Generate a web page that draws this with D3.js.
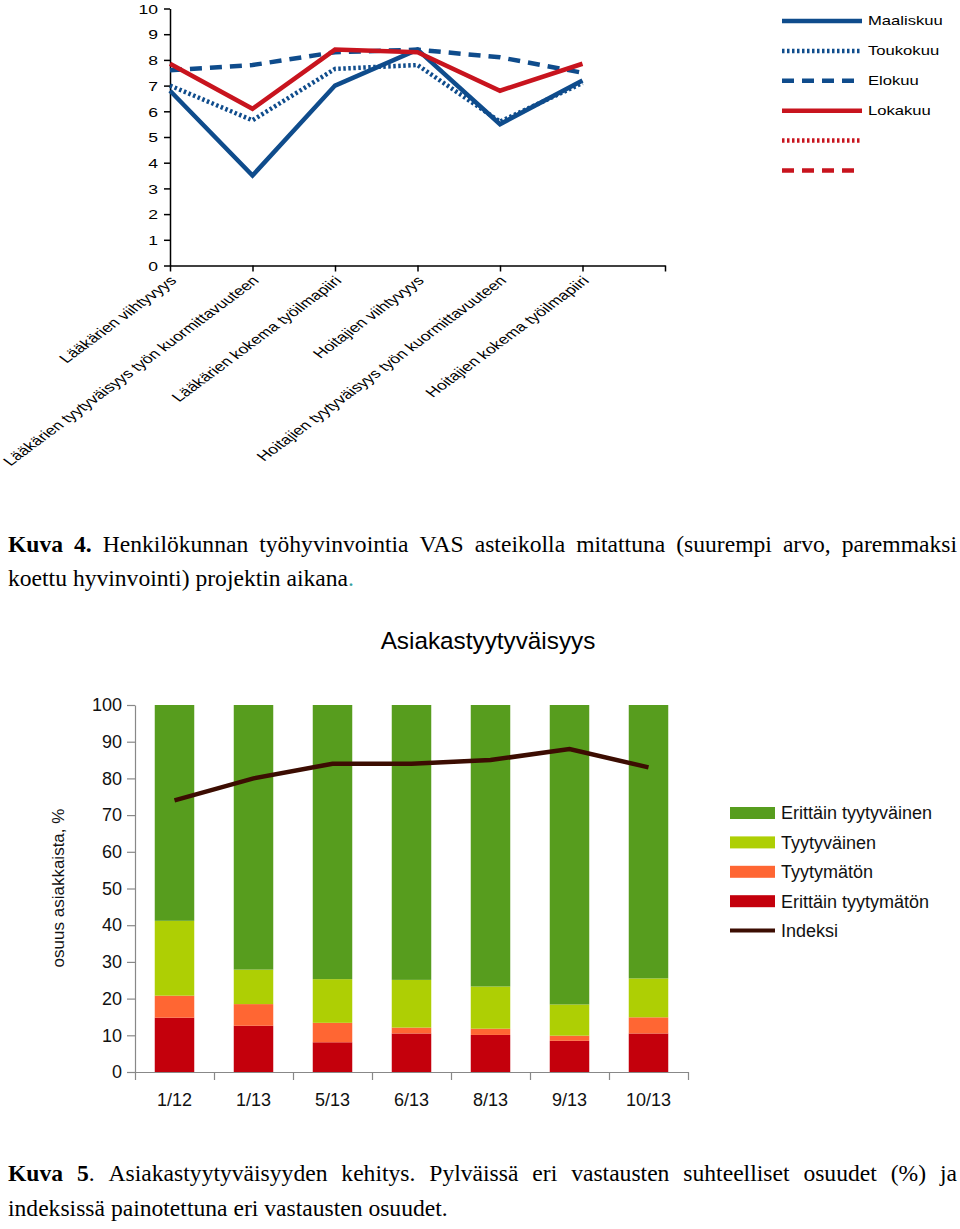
<!DOCTYPE html>
<html><head><meta charset="utf-8">
<script src="https://cdn.jsdelivr.net/npm/d3@7"></script>
<style>body{margin:0;background:#fff} svg{display:block}</style>
</head><body>
<svg id="c" width="960" height="1229"></svg>
<script>
// ---------- DATA: top chart ----------
const topCategories = ["Lääkärien viihtyvyys","Lääkärien tyytyväisyys työn kuormittavuuteen","Lääkärien kokema työilmapiiri","Hoitajien viihtyvyys","Hoitajien tyytyväisyys työn kuormittavuuteen","Hoitajien kokema työilmapiiri"];
const topSeriesNames = ["Maaliskuu","Toukokuu","Elokuu","Lokakuu","",""];
const maaliskuu = [6.8, 3.5, 7.0, 8.4, 5.5, 7.2];
const toukokuu  = [7.0, 5.65, 7.65, 7.8, 5.6, 7.1];
const elokuu    = [7.6, 7.8, 8.3, 8.4, 8.1, 7.5];
const lokakuu   = [7.85, 6.1, 8.4, 8.3, 6.8, 7.85];
const tyhja1 = [];
const tyhja2 = [];
const topYTicks = [0,1,2,3,4,5,6,7,8,9,10];

// ---------- DATA: bottom chart ----------
const periods = ["1/12","1/13","5/13","6/13","8/13","9/13","10/13"];
const erittainTyytymaton  = [14.8, 12.6, 8.1, 10.5, 10.1, 8.5, 10.5];
const tyytymaton          = [6.0, 5.9, 5.3, 1.6, 1.7, 1.4, 4.4];
const tyytyvainen         = [20.4, 9.4, 11.9, 13.0, 11.5, 8.5, 10.6];
const erittainTyytyvainen = [58.8, 72.1, 74.7, 74.9, 76.7, 81.6, 74.5];
const indeksi             = [74, 80, 84, 84, 85, 88, 83];
const bottomKeys = ["Erittäin tyytymätön","Tyytymätön","Tyytyväinen","Erittäin tyytyväinen"];
const bottomYTicks = [0,10,20,30,40,50,60,70,80,90,100];
const bottomTitle = "Asiakastyytyväisyys";
const bottomYLabel = "osuus asiakkaista, %";

// ---------- captions ----------
const caption4 = [
  [[["Kuva",1]],[["4.",1]],[["Henkilökunnan"]],[["työhyvinvointia"]],[["VAS"]],[["asteikolla"]],[["mitattuna"]],[["(suurempi"]],[["arvo,"]],[["paremmaksi"]]],
  [[["koettu"]],[["hyvinvointi)"]],[["projektin"]],[["aikana"],[".",0,"#3aa0a0"]]]
];
const caption5 = [
  [[["Kuva",1]],[["5",1],["."]],[["Asiakastyytyväisyyden"]],[["kehitys."]],[["Pylväissä"]],[["eri"]],[["vastausten"]],[["suhteelliset"]],[["osuudet"]],[["(%)"]],[["ja"]]],
  [[["indeksissä"]],[["painotettuna"]],[["eri"]],[["vastausten"]],[["osuudet."]]]
];

const SANS = "'Liberation Sans', Arial, sans-serif";
const SERIF = "'Liberation Serif', 'Times New Roman', serif";
const svg = d3.select("#c");

// ================= TOP CHART =================
const SX = 1.3, SXL = 1.35;
const BLUE = "#0f4c8c", RED = "#c8141e";
const topSeries = [maaliskuu, toukokuu, elokuu, lokakuu, tyhja1, tyhja2];
const topColors = [BLUE, BLUE, BLUE, RED, RED, RED];
const topDash = [null, "2.5,2.5", "12,8", null, "2.5,2.5", "12,8"];

const xT = d3.scaleLinear().domain([0, 6]).range([170, 665]);
const yT = d3.scaleLinear().domain([0, 10]).range([265.5, 8.5]);

const gyT = svg.append("g").attr("transform", "translate(170,0)")
  .call(d3.axisLeft(yT).tickValues(topYTicks).tickSize(6).tickSizeOuter(0));
gyT.select(".domain").attr("stroke", "#000").attr("stroke-width", 1.5);
gyT.selectAll(".tick line").attr("stroke", "#000").attr("stroke-width", 1.5);
gyT.selectAll(".tick text").attr("x", null).attr("dy", "0.35em")
  .attr("transform", `translate(-12,0) scale(${SX},1)`)
  .attr("font-family", SANS).attr("font-size", 13.5).attr("fill", "#000");

const gxT = svg.append("g").attr("transform", "translate(0,265.5)")
  .call(d3.axisBottom(xT).tickValues(d3.range(7)).tickSize(6).tickSizeOuter(0)
    .tickFormat(i => topCategories[i] || ""));
gxT.select(".domain").attr("stroke", "#000").attr("stroke-width", 1.5);
gxT.selectAll(".tick line").attr("stroke", "#000").attr("stroke-width", 1.5);
gxT.selectAll(".tick text").attr("y", null).attr("dy", null).attr("text-anchor", "end")
  .attr("transform", `translate(7,16) scale(${SXL},1) rotate(-45)`)
  .attr("font-family", SANS).attr("font-size", 13).attr("fill", "#000");

const lineT = d3.line().x((d, i) => xT(i)).y(d => yT(d));
topSeries.forEach((s, k) => {
  if (!s.length) return;
  svg.append("path").datum(s).attr("d", lineT).attr("fill", "none")
    .attr("stroke", topColors[k]).attr("stroke-width", 4.5)
    .attr("stroke-dasharray", topDash[k]);
});

const legT = svg.append("g");
topSeriesNames.forEach((n, k) => {
  const y = 21 + k * 29.9;
  legT.append("line").attr("x1", 782).attr("x2", 862).attr("y1", y).attr("y2", y)
    .attr("stroke", topColors[k]).attr("stroke-width", 4.5).attr("stroke-dasharray", topDash[k]);
  if (n) legT.append("text").text(n).attr("transform", `translate(868,${y}) scale(${SX},1)`)
    .attr("dy", "0.35em").attr("font-family", SANS).attr("font-size", 12.8).attr("fill", "#000");
});

// ================= BOTTOM CHART =================
const bottomColors = ["#c4000c", "#ff6633", "#aecf04", "#579d1e"];
const rows = periods.map((p, i) => ({
  period: p,
  "Erittäin tyytymätön": erittainTyytymaton[i],
  "Tyytymätön": tyytymaton[i],
  "Tyytyväinen": tyytyvainen[i],
  "Erittäin tyytyväinen": erittainTyytyvainen[i]
}));
const stack = d3.stack().keys(bottomKeys)(rows);

const xB = d3.scaleBand().domain(periods).range([135, 688]).paddingInner(0.5).paddingOuter(0.25);
const xEdge = d3.scaleLinear().domain([0, periods.length]).range([135, 688]);
const yB = d3.scaleLinear().domain([0, 100]).range([1072, 705]);

stack.forEach((layer, k) => {
  svg.append("g").attr("fill", bottomColors[k]).selectAll("rect").data(layer).join("rect")
    .attr("x", d => xB(d.data.period)).attr("width", xB.bandwidth())
    .attr("y", d => yB(d[1])).attr("height", d => yB(d[0]) - yB(d[1]));
});

const gyB = svg.append("g").attr("transform", "translate(135,0)")
  .call(d3.axisLeft(yB).tickValues(bottomYTicks).tickSize(8).tickPadding(5).tickSizeOuter(0));
gyB.select(".domain").attr("stroke", "#888").attr("stroke-width", 1.2);
gyB.selectAll(".tick line").attr("stroke", "#888").attr("stroke-width", 1.2);
gyB.selectAll(".tick text").attr("font-family", SANS).attr("font-size", 18).attr("fill", "#111");

const gxE = svg.append("g").attr("transform", "translate(0,1072)")
  .call(d3.axisBottom(xEdge).tickValues(d3.range(periods.length + 1)).tickSize(8).tickSizeOuter(0).tickFormat(""));
gxE.select(".domain").attr("stroke", "#888").attr("stroke-width", 1.2);
gxE.selectAll(".tick line").attr("stroke", "#888").attr("stroke-width", 1.2);

const gxB = svg.append("g").attr("transform", "translate(0,1072)")
  .call(d3.axisBottom(xB).tickSize(0).tickPadding(21));
gxB.select(".domain").remove();
gxB.selectAll(".tick text").attr("font-family", SANS).attr("font-size", 18).attr("fill", "#111");

const lineB = d3.line().x((d, i) => xB(periods[i]) + xB.bandwidth() / 2).y(d => yB(d));
svg.append("path").datum(indeksi).attr("d", lineB).attr("fill", "none")
  .attr("stroke", "#3c0d02").attr("stroke-width", 4.5);

svg.append("text").text(bottomTitle).attr("x", 488).attr("y", 649).attr("text-anchor", "middle")
  .attr("font-family", SANS).attr("font-size", 24.3).attr("fill", "#000");
svg.append("text").text(bottomYLabel).attr("transform", "translate(64,888) rotate(-90)")
  .attr("text-anchor", "middle").attr("font-family", SANS).attr("font-size", 17).attr("fill", "#111");

const legB = svg.append("g");
const legItems = [
  {n: "Erittäin tyytyväinen", c: bottomColors[3], t: "rect"},
  {n: "Tyytyväinen", c: bottomColors[2], t: "rect"},
  {n: "Tyytymätön", c: bottomColors[1], t: "rect"},
  {n: "Erittäin tyytymätön", c: bottomColors[0], t: "rect"},
  {n: "Indeksi", c: "#3c0d02", t: "line"}
];
legItems.forEach((it, k) => {
  const y = 813 + k * 29.4;
  if (it.t === "rect") legB.append("rect").attr("x", 730).attr("y", y - 6).attr("width", 45).attr("height", 12).attr("fill", it.c);
  else legB.append("line").attr("x1", 730).attr("x2", 775).attr("y1", y).attr("y2", y).attr("stroke", it.c).attr("stroke-width", 4);
  legB.append("text").text(it.n).attr("x", 781).attr("y", y).attr("dy", "0.35em")
    .attr("font-family", SANS).attr("font-size", 18).attr("fill", "#111");
});

// ================= CAPTIONS =================
function writeLine(words, x0, x1, y, size, justify) {
  const g = svg.append("g").attr("transform", `translate(${x0},${y})`);
  const els = words.map(w => {
    const t = g.append("text").attr("font-family", SERIF).attr("font-size", size).attr("fill", "#000");
    w.forEach(seg => {
      t.append("tspan").text(seg[0]).attr("font-weight", seg[1] ? "bold" : "normal").attr("fill", seg[2] || "#000");
    });
    return t;
  });
  const widths = els.map(t => t.node().getComputedTextLength());
  const total = d3.sum(widths);
  const gap = justify ? (x1 - x0 - total) / (els.length - 1) : size * 0.25;
  let x = 0;
  els.forEach((t, i) => { t.attr("x", x); x += widths[i] + gap; });
}
const CAP = 23.6;
writeLine(caption4[0], 8, 957, 552, CAP, true);
writeLine(caption4[1], 8, 957, 586, CAP, false);
writeLine(caption5[0], 8, 957, 1181, CAP, true);
writeLine(caption5[1], 8, 957, 1216, CAP, false);
</script>
</body></html>
